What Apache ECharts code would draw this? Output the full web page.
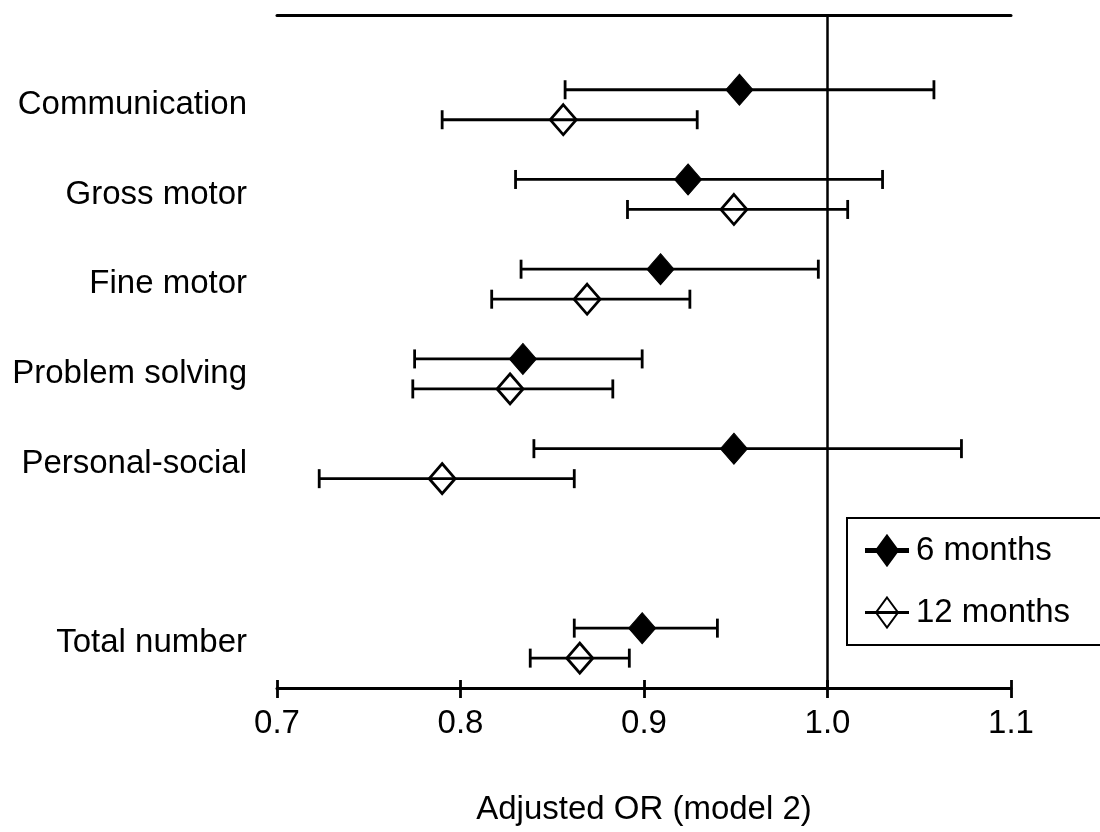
<!DOCTYPE html>
<html>
<head>
<meta charset="utf-8">
<script src="https://cdn.jsdelivr.net/npm/echarts@6/dist/echarts.min.js"></script>
<style>
html,body{margin:0;padding:0;background:#fff;}
#chart{width:1100px;height:832px;}
</style>
</head>
<body>
<div id="chart"></div>
<script>
// Domains (blank entry = empty row before the total)
const categories = ['Communication', 'Gross motor', 'Fine motor', 'Problem solving', 'Personal-social', '', 'Total number'];
// 6 months: adjusted OR and 95% CI
const or6  = [0.952, 0.924, 0.909, 0.834, 0.949, null, 0.899];
const lo6  = [0.857, 0.830, 0.833, 0.775, 0.840, null, 0.862];
const hi6  = [1.058, 1.030, 0.995, 0.899, 1.073, null, 0.940];
// 12 months: adjusted OR and 95% CI
const or12 = [0.856, 0.949, 0.869, 0.827, 0.790, null, 0.865];
const lo12 = [0.790, 0.891, 0.817, 0.774, 0.723, null, 0.838];
const hi12 = [0.929, 1.011, 0.925, 0.883, 0.862, null, 0.892];
const xTickLabels = ['0.7', '0.8', '0.9', '1.0', '1.1'];
const seriesNames = ['6 months', '12 months'];
const axisTitle = 'Adjusted OR (model 2)';

const FONT = 'Liberation Sans, Arial, sans-serif';
const FS = 33;
const OFF6 = -15, OFF12 = 15;

function pts(or) {
  const out = [];
  or.forEach((v, i) => { if (v != null) out.push([v, i]); });
  return out;
}
function bars(lo, hi) {
  const out = [];
  lo.forEach((v, i) => { if (v != null) out.push([v, hi[i], i]); });
  return out;
}
function errRender(off) {
  return function (params, api) {
    const a = api.coord([api.value(0), api.value(2)]);
    const b = api.coord([api.value(1), api.value(2)]);
    const y = a[1] + off;
    const cap = 9.5;
    const st = { stroke: '#000', lineWidth: 2.8 };
    return {
      type: 'group',
      children: [
        { type: 'line', shape: { x1: a[0], y1: y, x2: b[0], y2: y }, style: st },
        { type: 'line', shape: { x1: a[0], y1: y - cap, x2: a[0], y2: y + cap }, style: st },
        { type: 'line', shape: { x1: b[0], y1: y - cap, x2: b[0], y2: y + cap }, style: st }
      ]
    };
  };
}

const xMin = parseFloat(xTickLabels[0]);
const xMax = parseFloat(xTickLabels[xTickLabels.length - 1]);

const iconFilled = 'path://M0,13.6 L42,13.6 L42,16.4 L0,16.4 Z M21,0 L32,15 L21,30 L10,15 Z';
const iconHollow = 'path://M0,14.4 L42,14.4 L42,15.6 L0,15.6 Z M21,0 L32,15 L21,30 L10,15 Z';

const chart = echarts.init(document.getElementById('chart'), null, { renderer: 'canvas' });
chart.setOption({
  animation: false,
  backgroundColor: '#fff',
  textStyle: { fontFamily: FONT, color: '#000' },
  grid: { left: 277, right: 89, top: 15, bottom: 144, containLabel: false },
  legend: {
    orient: 'vertical',
    left: 847,
    top: 518,
    backgroundColor: '#fff',
    borderColor: '#000',
    borderWidth: 2,
    borderRadius: 0,
    padding: [16, 80, 16, 18],
    itemWidth: 42,
    itemHeight: 30,
    itemGap: 29,
    textStyle: { fontFamily: FONT, fontSize: FS, color: '#000', padding: [0, 0, 0, 3] },
    data: [
      { name: seriesNames[0], icon: iconFilled },
      { name: seriesNames[1], icon: iconHollow }
    ]
  },
  xAxis: [
    {
      type: 'value', position: 'bottom', min: xMin, max: xMax, interval: 0.1,
      axisLine: { show: true, onZero: false, lineStyle: { color: '#000', width: 3 } },
      axisTick: { show: true, inside: false, length: 10, lineStyle: { color: '#000', width: 2.8 } },
      axisLabel: {
        show: true, margin: 19, fontSize: FS, fontFamily: FONT, color: '#000',
        formatter: function (v) {
          const i = Math.round((v - xMin) / 0.1);
          return xTickLabels[i] != null ? xTickLabels[i] : '';
        }
      },
      splitLine: { show: false },
      name: axisTitle, nameLocation: 'middle', nameGap: 105,
      nameTextStyle: { fontSize: FS, fontFamily: FONT, color: '#000' }
    },
    {
      type: 'value', position: 'bottom', min: xMin, max: xMax, interval: 0.1,
      axisLine: { show: false, onZero: false },
      axisTick: { show: true, inside: true, length: 8, lineStyle: { color: '#000', width: 2.8 } },
      axisLabel: { show: false },
      splitLine: { show: false }
    },
    {
      type: 'value', position: 'top', min: xMin, max: xMax, interval: 0.1,
      axisLine: { show: true, onZero: false, lineStyle: { color: '#000', width: 3 } },
      axisTick: { show: false },
      axisLabel: { show: false },
      splitLine: { show: false }
    }
  ],
  yAxis: {
    type: 'value', inverse: true, min: -1, max: 6.5, interval: 1,
    axisLine: { show: false },
    axisTick: { show: false },
    splitLine: { show: false },
    axisLabel: {
      show: true, margin: 30, fontSize: FS, fontFamily: FONT, color: '#000',
      showMaxLabel: false,
      formatter: function (v) {
        if (Math.abs(v - Math.round(v)) > 1e-6) return '';
        const c = categories[Math.round(v)];
        return c != null ? c : '';
      }
    }
  },
  series: [
    {
      type: 'custom', name: seriesNames[0] + ' CI', xAxisIndex: 0,
      renderItem: errRender(OFF6), data: bars(lo6, hi6), z: 2,
      encode: { x: [0, 1], y: 2 }, silent: true,
      markLine: {
        silent: true, symbol: 'none', animation: false,
        label: { show: false },
        lineStyle: { color: '#000', width: 2.5, type: 'solid' },
        data: [{ xAxis: 1.0 }]
      }
    },
    {
      type: 'custom', name: seriesNames[1] + ' CI', xAxisIndex: 0,
      renderItem: errRender(OFF12), data: bars(lo12, hi12), z: 2,
      encode: { x: [0, 1], y: 2 }, silent: true
    },
    {
      type: 'scatter', name: seriesNames[0], xAxisIndex: 0,
      symbol: 'diamond', symbolSize: [27, 31], symbolOffset: [0, OFF6],
      itemStyle: { color: '#000', borderColor: '#000', borderWidth: 1, opacity: 1 },
      data: pts(or6), z: 5
    },
    {
      type: 'scatter', name: seriesNames[1], xAxisIndex: 0,
      symbol: 'diamond', symbolSize: [26, 30], symbolOffset: [0, OFF12],
      itemStyle: { color: 'rgba(255,255,255,0)', borderColor: '#000', borderWidth: 2.8, opacity: 1 },
      data: pts(or12), z: 5
    }
  ]
});
</script>
</body>
</html>
